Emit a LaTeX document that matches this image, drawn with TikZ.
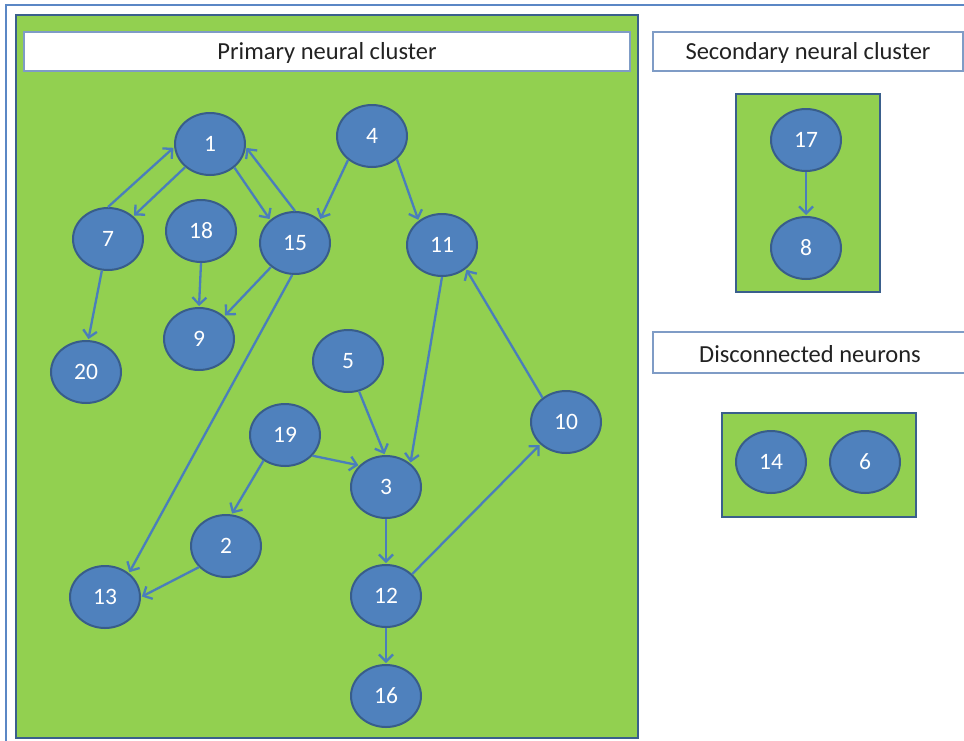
\documentclass[tikz,border=0pt]{standalone}
\usepackage{fontspec}
\setmainfont{Carlito}
\usetikzlibrary{shapes.geometric,arrows.meta}

\definecolor{neuronfill}{HTML}{4F81BD}
\definecolor{neuronedge}{HTML}{385D8A}
\definecolor{linkblue}{HTML}{4A7EBB}
\definecolor{clustergreen}{HTML}{92D050}
\definecolor{clusteredge}{HTML}{3A5F8C}
\definecolor{titleedge}{HTML}{7F9CC6}
\definecolor{frameblue}{HTML}{5B87C5}
\definecolor{titletext}{HTML}{222222}

\tikzset{
  neuron/.style={ellipse, draw=neuronedge, line width=2pt, fill=neuronfill,
    minimum width=70pt, minimum height=62pt, inner sep=0pt,
    text=white, font=\fontsize{23.5}{28}\selectfont},
  cluster/.style={draw=clusteredge, line width=2.5pt, fill=clustergreen},
  titlebox/.style={draw=titleedge, line width=1.5pt, fill=white},
  titletxt/.style={text=titletext, font=\fontsize{24.5}{29}\selectfont, inner sep=0pt},
  link/.style={draw=linkblue, line width=2.3pt,
    -{Straight Barb[length=7pt,width=14pt,line width=2.3pt]}, shorten >=1pt}
}

\begin{document}
\begin{tikzpicture}[x=1pt,y=-1pt]
  \useasboundingbox (0,0) rectangle (964,740);
  \clip (0,0) rectangle (964,740);
  \fill[white] (0,0) rectangle (964,740);

  % outer slide frame
  \draw[frameblue, line width=2pt] (6,5) rectangle (980,760);

  % cluster panels
  \draw[cluster] (16,15) rectangle (638,738);
  \draw[cluster] (736,94) rectangle (880,292);
  \draw[cluster] (722,413) rectangle (916,517);

  % headings
  \draw[titlebox] (24,32) rectangle (630,71);
  \node[titletxt] (tprimary) at (327,53) {Primary neural cluster};
  \draw[titlebox] (653,32) rectangle (963,71);
  \node[titletxt] (tsecondary) at (808,53) {Secondary neural cluster};
  \draw[titlebox] (653,332) rectangle (970,373);
  \node[titletxt] (tdisc) at (810,354) {Disconnected neurons};

  % neurons of the primary cluster
  \node[neuron] (n1)  at (210,144) {1};
  \node[neuron] (n4)  at (372,136) {4};
  \node[neuron] (n7)  at (108,239) {7};
  \node[neuron] (n18) at (201,231) {18};
  \node[neuron] (n15) at (295,243) {15};
  \node[neuron] (n11) at (442,245) {11};
  \node[neuron] (n9)  at (199,339) {9};
  \node[neuron] (n20) at (86,372)  {20};
  \node[neuron] (n5)  at (348,361) {5};
  \node[neuron] (n19) at (285,435) {19};
  \node[neuron] (n3)  at (386,487) {3};
  \node[neuron] (n10) at (566,422) {10};
  \node[neuron] (n2)  at (226,546) {2};
  \node[neuron] (n13) at (105,597) {13};
  \node[neuron] (n12) at (386,596) {12};
  \node[neuron] (n16) at (386,696) {16};

  % secondary cluster and isolated neurons
  \node[neuron] (n17) at (806,140) {17};
  \node[neuron] (n8)  at (806,248) {8};
  \node[neuron] (n14) at (771,462) {14};
  \node[neuron] (n6)  at (865,462) {6};

  % synapses
  \draw[link] (n7.90)   -- (n1.185);
  \draw[link] (n1.223)  -- (n7.42);
  \draw[link] (n1.316)  -- (n15.137);
  \draw[link] (n15.90)  -- (n1.355);
  \draw[link] (n4.225)  -- (n15.43);
  \draw[link] (n4.317)  -- (n11.134);
  \draw[link] (n18.270) -- (n9.90);
  \draw[link] (n15.225) -- (n9.42);
  \draw[link] (n15.265) -- (n13.45);
  \draw[link] (n7.259)  -- (n20.86);
  \draw[link] (n11.270) -- (n3.44);
  \draw[link] (n5.290)  -- (n3.92);
  \draw[link] (n19.323) -- (n3.141);
  \draw[link] (n19.230) -- (n2.80);
  \draw[link] (n2.218)  -- (n13.0);
  \draw[link] (n3.270)  -- (n12.90);
  \draw[link] (n12.40)  -- (n10.221);
  \draw[link] (n10.134) -- (n11.315);
  \draw[link] (n12.270) -- (n16.90);
  \draw[link] (n17.270) -- (n8.90);
\end{tikzpicture}
\end{document}
